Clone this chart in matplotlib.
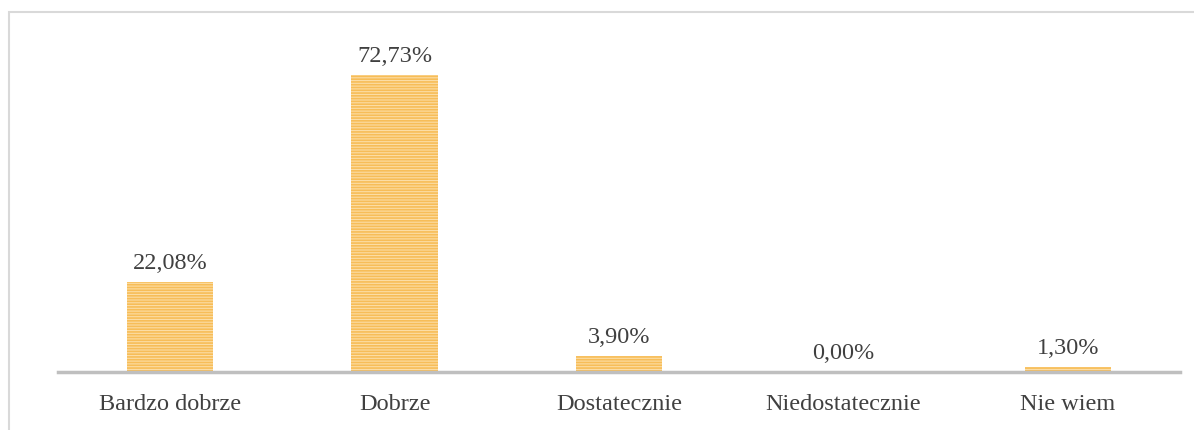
import matplotlib
matplotlib.use('Agg')
import matplotlib.pyplot as plt
from matplotlib.patches import Rectangle

categories = ['Bardzo dobrze', 'Dobrze', 'Dostatecznie', 'Niedostatecznie', 'Nie wiem']
values = [22.08, 72.73, 3.90, 0.00, 1.30]
labels = ['22,08%', '72,73%', '3,90%', '0,00%', '1,30%']

plt.rcParams['font.family'] = ['Liberation Serif', 'DejaVu Serif']
plt.rcParams['hatch.linewidth'] = 1.2

fig = plt.figure(figsize=(11.94, 4.31), dpi=100)
# chart border (light gray frame, cut at right/bottom)
fig.patches.append(Rectangle((9/1194, -0.1), 1.2, (431-13)/431 + 0.1,
                             transform=fig.transFigure, fill=False,
                             edgecolor='#D9D9D9', linewidth=1.5))

ax = fig.add_axes([58/1194, (431-373)/431, (1180-58)/1194, (373-46)/431])
x = range(len(categories))
ax.bar(x, values, width=0.385, color='#FCDDA4', hatch='------',
       edgecolor='#F7BD58', linewidth=0)
for i, v in enumerate(values):
    ax.text(i, v + 2.2, labels[i], ha='center', va='bottom',
            fontsize=17.5, color='#404040')

ax.set_xlim(-0.5, len(categories) - 0.5)
ax.set_ylim(0, 80)
ax.set_xticks(list(x))
ax.set_xticklabels(categories, fontsize=17.5, color='#404040')
ax.tick_params(axis='x', length=0, pad=15)
ax.set_yticks([])
for s in ['top', 'right', 'left']:
    ax.spines[s].set_visible(False)
ax.spines['bottom'].set_color('#BFBFBF')
ax.spines['bottom'].set_linewidth(2.5)

plt.savefig('out.png', dpi=100)
